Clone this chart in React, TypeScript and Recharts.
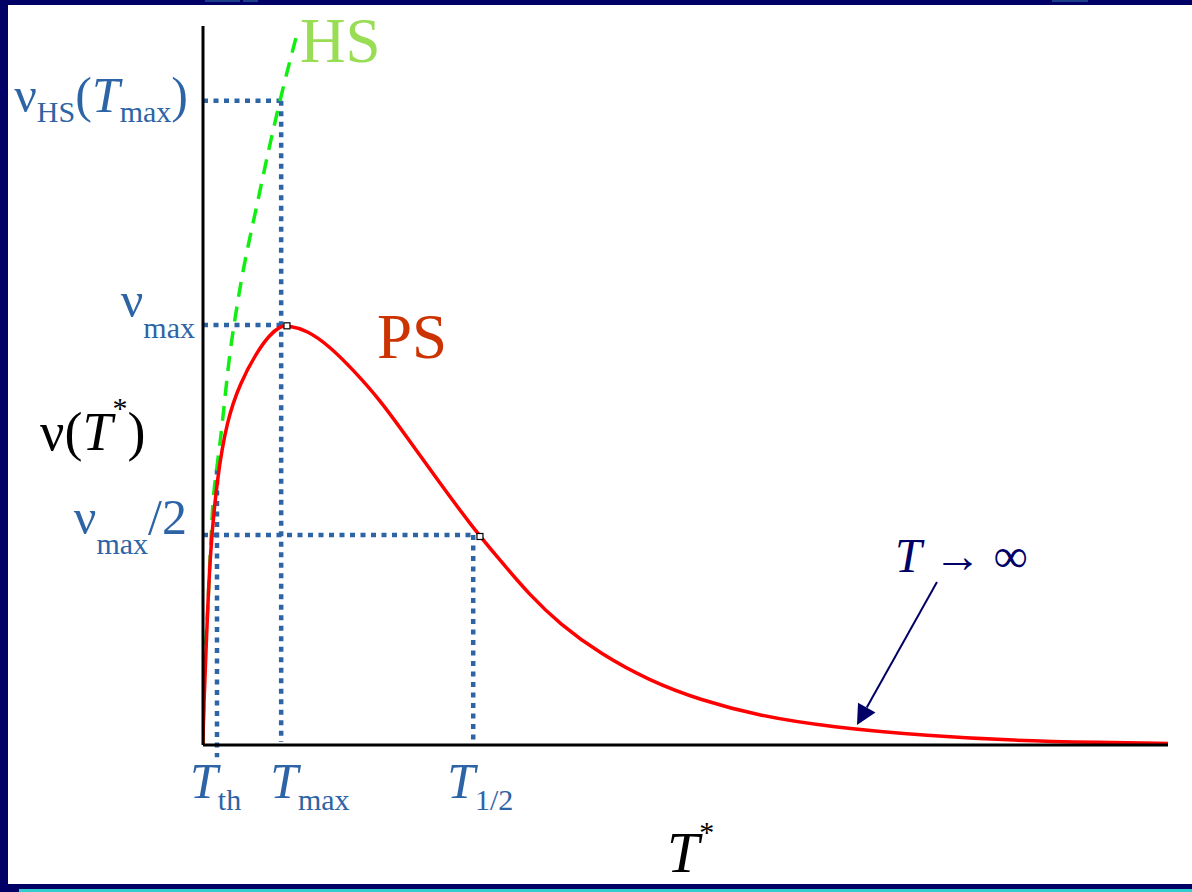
import React from 'react';
import {
  LineChart,
  Line,
  XAxis,
  YAxis,
  ReferenceLine,
  ReferenceDot,
} from 'recharts';

// PS curve, read as (T*, ν) pairs
const psT = [0, 0.05, 0.41, 0.73, 1.45, 2.49, 3.83, 5.6, 6.94, 7.98, 8.7, 10.78, 13.16, 15.54, 18.34, 21.14, 24.56, 27.98, 30.78, 33.89, 37.0, 41.14, 46.32, 51.5, 57.7, 64.97, 75.34, 83.94, 92.95, 100];
const psV = [0, 4.45, 16.4, 26.7, 37.1, 45.2, 50.3, 54.7, 57.1, 58.2, 58.4, 57.7, 55.4, 52.2, 48.0, 42.8, 36.4, 30.2, 25.7, 20.8, 16.8, 12.7, 8.9, 6.26, 4.03, 2.5, 1.25, 0.63, 0.36, 0.22];

// HS curve
const hsT = [0, 0.1, 0.52, 1.04, 1.45, 1.76, 2.8, 3.63, 5.7, 7.98, 9.84];
const hsV = [0, 6.7, 19.7, 33.7, 38.7, 42.0, 54.5, 61.9, 75.8, 89.6, 99.4];

// characteristic points
const T_TH = 1.45;
const T_MAX = 8.1;
const T_HALF = 28;
const V_MAX = 58.4;
const V_HALF = 29.2;
const V_HS = 89.6;
const peakPoint = { t: 8.7, v: 58.3 };
const halfPoint = { t: 28.7, v: 29.0 };

const xTicks = [T_TH, T_MAX, T_HALF];
const xTickLabels = [
  [{ text: 'T', italic: true }, { text: 'th', sub: true }],
  [{ text: 'T', italic: true }, { text: 'max', sub: true }],
  [{ text: 'T', italic: true }, { text: '1/2', sub: true }],
];
const yTicks = [V_HALF, V_MAX, V_HS];
const yTickLabels = [
  [{ text: 'ν' }, { text: 'max', sub: true }, { text: '/2' }],
  [{ text: 'ν' }, { text: 'max', sub: true }],
  [{ text: 'ν' }, { text: 'HS', sub: true }, { text: '(' }, { text: 'T', italic: true }, { text: 'max', sub: true }, { text: ')' }],
];

const psData = psT.map((t, i) => ({ t, v: psV[i] }));
const hsData = hsT.map((t, i) => ({ t, v: hsV[i] }));

const FONT = '"Liberation Serif", "Times New Roman", serif';
const GUIDE = '#2d64a5';
const NAVY = '#000066';

type Part = { text: string; italic?: boolean; sub?: boolean; sup?: boolean };

function spans(parts: Part[], size: number, subSize: number, drop: number, rise = 0) {
  let level = 0;
  return parts.map((p, i) => {
    const target = p.sub ? drop : p.sup ? -rise : 0;
    const dy = target - level;
    level = target;
    return (
      <tspan
        key={i}
        dy={dy}
        fontSize={p.sub || p.sup ? subSize : size}
        fontStyle={p.italic ? 'italic' : 'normal'}
      >
        {p.text}
      </tspan>
    );
  });
}

// per-tick nudges so the labels sit where the guides end
const yTickNudge = [
  { dx: -16, dy: -1, drop: 20 },
  { dx: -8, dy: -8, drop: 21 },
  { dx: -15, dy: 11, drop: 10 },
];
const xTickNudge = [-27, -11, -26];

function YTick(props: any) {
  const { x, y, index } = props;
  const n = yTickNudge[index];
  return (
    <text x={x + n.dx} y={y + n.dy} textAnchor="end" fill={GUIDE} fontFamily={FONT}>
      {spans(yTickLabels[index], 50, 30, n.drop)}
    </text>
  );
}

function XTick(props: any) {
  const { x, y, index } = props;
  return (
    <text x={x + xTickNudge[index]} y={y + 53} textAnchor="start" fill={GUIDE} fontFamily={FONT}>
      {spans(xTickLabels[index], 50, 30, 12)}
    </text>
  );
}

function YTitle(props: any) {
  const { x, y } = props.viewBox;
  return (
    <text x={x + 32} y={y + 424} fill="#000" fontFamily={FONT}>
      {spans([{ text: 'ν(' }, { text: 'T', italic: true }, { text: '*', sup: true }, { text: ')' }], 54, 30, 0, 32)}
    </text>
  );
}

function XTitle(props: any) {
  const { x, y } = props.viewBox;
  return (
    <text x={x + 464} y={y + 127} fill="#000" fontFamily={FONT}>
      {spans([{ text: 'T', italic: true }, { text: '*', sup: true }], 58, 30, 0, 30)}
    </text>
  );
}

function SquareMark(props: any) {
  const { cx, cy } = props;
  return <rect x={cx - 3} y={cy - 3} width={6} height={6} fill="#fff" stroke="#000" strokeWidth={1.2} />;
}

function textAt(label: React.ReactNode) {
  return (props: any) => (
    <text x={props.cx} y={props.cy} fontFamily={FONT}>
      {label}
    </text>
  );
}

function ArrowShape(props: any) {
  const { x1, y1, x2, y2 } = props;
  const len = Math.hypot(x2 - x1, y2 - y1);
  const ux = (x2 - x1) / len;
  const uy = (y2 - y1) / len;
  const bx = x2 - ux * 20;
  const by = y2 - uy * 20;
  const hw = 10;
  return (
    <g>
      <line x1={x1} y1={y1} x2={bx} y2={by} stroke={NAVY} strokeWidth={2} />
      <polygon
        points={`${x2},${y2} ${bx - uy * hw},${by + ux * hw} ${bx + uy * hw},${by - ux * hw}`}
        fill={NAVY}
      />
    </g>
  );
}

const dotted = { stroke: GUIDE, strokeWidth: 4.5, strokeDasharray: '5 5.5' };

export default function App() {
  return (
    <div style={{ position: 'absolute', left: 0, top: 0, width: 1192, height: 892, background: NAVY, overflow: 'hidden' }}>
      <div style={{ position: 'absolute', left: 205, top: 0, width: 35, height: 2, background: '#1c3d8a' }} />
      <div style={{ position: 'absolute', left: 243, top: 0, width: 15, height: 2, background: '#1c3d8a' }} />
      <div style={{ position: 'absolute', left: 1052, top: 0, width: 36, height: 2, background: '#1c3d8a' }} />
      <div style={{ position: 'absolute', left: 19, top: 889, width: 1173, height: 3, background: '#33cccc' }} />
      <div style={{ position: 'absolute', left: 8, top: 5, width: 1184, height: 879, background: '#fff' }}>
        <LineChart width={1184} height={879} margin={{ top: 21, right: 24, left: 0, bottom: 0 }}>
          <XAxis
            type="number"
            dataKey="t"
            domain={[0, 100]}
            allowDataOverflow
            ticks={xTicks}
            interval={0}
            tick={<XTick />}
            tickLine={false}
            tickSize={0}
            tickMargin={0}
            axisLine={{ stroke: '#000', strokeWidth: 3 }}
            height={139}
            label={{ content: <XTitle /> }}
          />
          <YAxis
            type="number"
            dataKey="v"
            domain={[0, 100]}
            allowDataOverflow
            ticks={yTicks}
            interval={0}
            tick={<YTick />}
            tickLine={false}
            tickSize={0}
            tickMargin={0}
            axisLine={{ stroke: '#000', strokeWidth: 3 }}
            width={195}
            label={{ content: <YTitle /> }}
          />

          <ReferenceLine segment={[{ x: 0, y: V_HS }, { x: T_MAX, y: V_HS }]} {...dotted} ifOverflow="visible" />
          <ReferenceLine segment={[{ x: T_MAX, y: V_HS }, { x: T_MAX, y: 0.4 }]} {...dotted} ifOverflow="visible" />
          <ReferenceLine segment={[{ x: 0, y: V_MAX }, { x: T_MAX, y: V_MAX }]} {...dotted} ifOverflow="visible" />
          <ReferenceLine segment={[{ x: 0, y: V_HALF }, { x: T_HALF, y: V_HALF }]} {...dotted} ifOverflow="visible" />
          <ReferenceLine segment={[{ x: T_HALF, y: V_HALF }, { x: T_HALF, y: 0.4 }]} {...dotted} ifOverflow="visible" />
          <ReferenceLine segment={[{ x: T_TH, y: 38.3 }, { x: T_TH, y: -1.7 }]} {...dotted} ifOverflow="visible" />

          <Line
            data={hsData}
            dataKey="v"
            type="monotone"
            stroke="#11ee11"
            strokeWidth={3.5}
            strokeDasharray="15 10"
            dot={false}
            activeDot={false}
            isAnimationActive={false}
          />
          <Line
            data={psData}
            dataKey="v"
            type="basis"
            stroke="#ff0000"
            strokeWidth={3.5}
            dot={false}
            activeDot={false}
            isAnimationActive={false}
          />

          <ReferenceDot x={peakPoint.t} y={peakPoint.v} r={3} shape={<SquareMark />} ifOverflow="visible" />
          <ReferenceDot x={halfPoint.t} y={halfPoint.v} r={3} shape={<SquareMark />} ifOverflow="visible" />

          <ReferenceDot
            x={10.05}
            y={95.0}
            r={0}
            ifOverflow="visible"
            shape={textAt(<tspan fill="#99dd55" fontSize={63}>HS</tspan>)}
          />
          <ReferenceDot
            x={18.03}
            y={53.8}
            r={0}
            ifOverflow="visible"
            shape={textAt(<tspan fill="#cc3300" fontSize={63}>PS</tspan>)}
          />
          <ReferenceDot
            x={71.7}
            y={24.06}
            r={0}
            ifOverflow="visible"
            shape={textAt(
              <>
                <tspan fill={NAVY} fontSize={48} fontStyle="italic">T</tspan>
                <tspan fill={NAVY} fontSize={48}> → ∞</tspan>
              </>
            )}
          />
          <ReferenceLine
            segment={[{ x: 76.06, y: 22.67 }, { x: 67.77, y: 2.78 }]}
            ifOverflow="visible"
            shape={<ArrowShape />}
          />
        </LineChart>
      </div>
    </div>
  );
}
